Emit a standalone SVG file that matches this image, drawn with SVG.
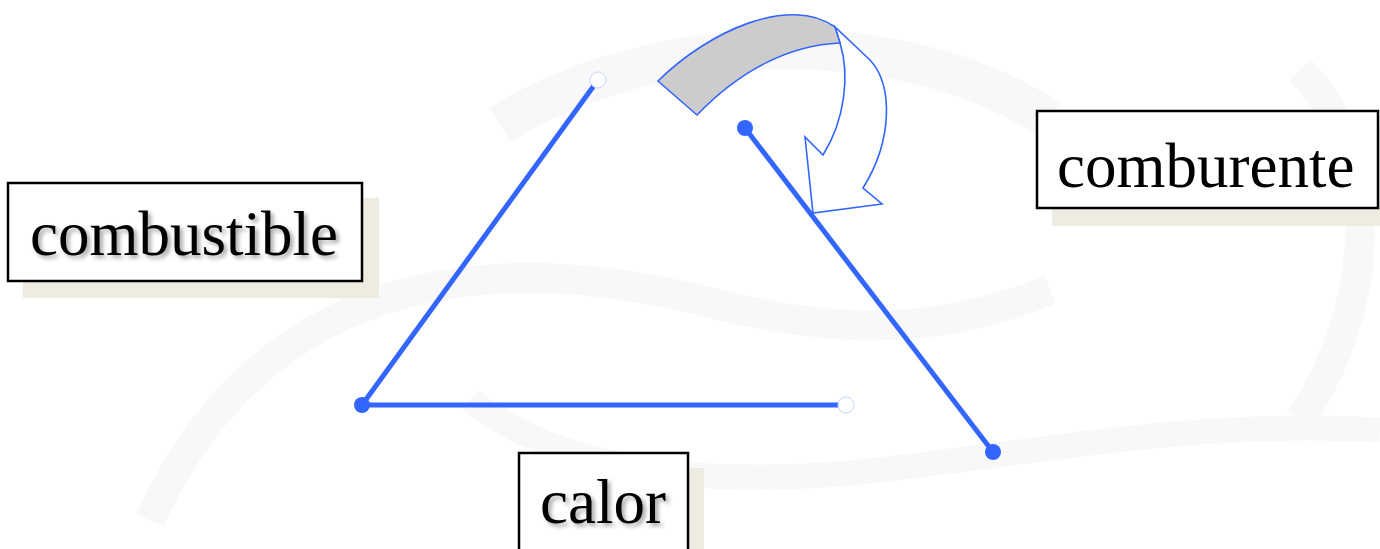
<svg xmlns="http://www.w3.org/2000/svg" width="1380" height="549" viewBox="0 0 1380 549">
<defs>
<style>
.lbl{font-family:"Liberation Serif","Times New Roman",serif;font-size:63px;fill:#000}
.box{fill:#fff;stroke:#000;stroke-width:2.5}
.shd{fill:#EEECE1}
.edge{stroke:#3366FF;stroke-width:5;fill:none}
.dot{fill:#3366FF}
.hole{fill:#fff;stroke:#C8D4FF;stroke-width:1}
.arr{stroke:#3366FF;stroke-width:1.6;stroke-linejoin:miter}
.bg{fill:none;stroke:#F8F8F8}
</style>
<filter id="ts" x="-10%" y="-20%" width="130%" height="150%">
<feDropShadow dx="3" dy="3" stdDeviation="2" flood-color="#000" flood-opacity="0.35"/>
</filter>
</defs>
<rect width="1380" height="549" fill="#fff"/>
<g id="background">
<path class="bg" stroke-width="40" d="M500,125 C650,30 900,20 1050,120"/>
<path class="bg" stroke-width="30" d="M150,520 C250,300 450,240 700,300 C850,340 950,330 1050,290"/>
<path class="bg" stroke-width="25" d="M470,400 C560,470 700,490 880,470 C1050,450 1200,420 1380,430"/>
<path class="bg" stroke-width="30" d="M1300,70 C1380,150 1380,300 1300,420"/>
</g>
<g id="connectors">
<line class="edge" x1="598" y1="80" x2="362" y2="405"/>
<line class="edge" x1="362" y1="405" x2="846" y2="405"/>
<line class="edge" x1="745" y1="128" x2="993" y2="452"/>
<circle class="dot" cx="362" cy="405" r="8"/>
<circle class="dot" cx="745" cy="128" r="8"/>
<circle class="dot" cx="993" cy="452" r="8"/>
<circle class="hole" cx="598" cy="80" r="8"/>
<circle class="hole" cx="846" cy="405" r="8"/>
</g>
<g id="curved-arrow">
<path class="arr" fill="#fff" d="M840,43 C850,75 845,120 823,155 L805,137 L813,213 L882,204 L863,188 C893,140 893,85 870,60 L835,27 Z"/>
<path class="arr" fill="#CCCCCC" d="M658,81 C710,30 790,-5 835,27 L840,43 C790,45 740,70 697,115 Z"/>
</g>
<g id="combustible">
<rect class="shd" x="23" y="198" width="356" height="100"/>
<rect class="box" x="8" y="183" width="354" height="98"/>
<text class="lbl" x="30" y="255" filter="url(#ts)">combustible</text>
</g>
<g id="comburente">
<rect class="shd" x="1052" y="126" width="328" height="100"/>
<rect class="box" x="1037" y="111" width="341" height="97"/>
<text class="lbl" x="1057" y="187">comburente</text>
</g>
<g id="calor">
<rect class="shd" x="534" y="468" width="170" height="90"/>
<rect class="box" x="519" y="453" width="169" height="110"/>
<text class="lbl" x="540" y="523" filter="url(#ts)">calor</text>
</g>
</svg>
